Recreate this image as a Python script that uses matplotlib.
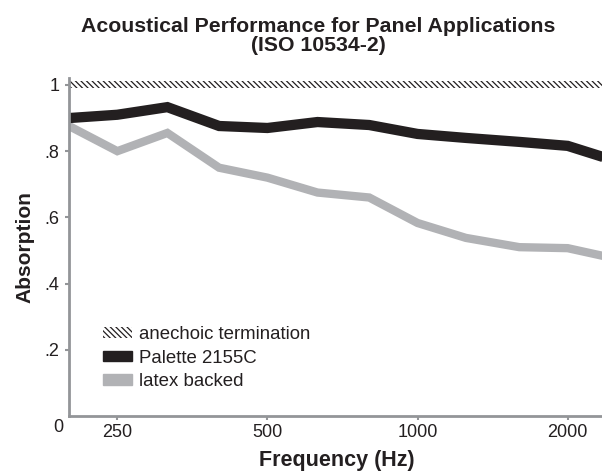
import matplotlib
matplotlib.use("Agg")
import matplotlib.pyplot as plt
from matplotlib.patches import Patch
from matplotlib.transforms import ScaledTranslation
import numpy as np

freqs = [200, 250, 315, 400, 500, 630, 800, 1000, 1250, 1600, 2000, 2500]
anechoic = [1.0] * len(freqs)
palette = [0.90, 0.91, 0.933, 0.876, 0.87, 0.888, 0.879, 0.852, 0.84, 0.828, 0.816, 0.77]
latex = [0.876, 0.80, 0.855, 0.75, 0.72, 0.675, 0.66, 0.583, 0.538, 0.51, 0.507, 0.475]
xticks = [250, 500, 1000, 2000]
yticks = [0, 0.2, 0.4, 0.6, 0.8, 1.0]
yticklabels = ["0", ".2", ".4", ".6", ".8", "1"]

plt.rcParams['font.family'] = ['Liberation Sans', 'DejaVu Sans']
plt.rcParams['hatch.linewidth'] = 0.9

fig = plt.figure(figsize=(6.02, 4.71), dpi=100)
ax = fig.add_axes([69/602, 55/471, 547/602, 338/471])

black = '#231f20'
gray = '#b1b2b5'
spine_c = '#939598'
txt_c = '#231f20'

band = 0.0105
ax.fill_between(freqs, np.array(anechoic) - band, np.array(anechoic) + band,
                facecolor='white', edgecolor=black, hatch='\\\\\\\\\\\\', linewidth=0)
ax.plot(freqs, latex, color=gray, lw=6.0, solid_joinstyle='miter', solid_capstyle='butt')
ax.plot(freqs, palette, color=black, lw=7.4, solid_joinstyle='miter', solid_capstyle='butt')

ax.set_xscale('log')
ax.set_xlim(200, 2500)
ax.set_ylim(0, 1.021)
ax.set_xticks(xticks)
ax.set_xticklabels([str(t) for t in xticks])
ax.xaxis.set_minor_locator(matplotlib.ticker.NullLocator())
ax.set_yticks(yticks)
ax.set_yticklabels(yticklabels)

for s in ['top', 'right']:
    ax.spines[s].set_visible(False)
for s in ['left', 'bottom']:
    ax.spines[s].set_color(spine_c)
    ax.spines[s].set_linewidth(2)
ax.tick_params(axis='both', colors=spine_c, length=3, width=1.5, labelsize=13,
               labelcolor=txt_c)
ax.tick_params(axis='y', pad=4)
ax.tick_params(axis='x', pad=3)
# shift the "0" label down to the corner
lab0 = ax.get_yticklabels()[0]
lab0.set_transform(lab0.get_transform() + ScaledTranslation(4/100, -9/100, fig.dpi_scale_trans))
ax.yaxis.get_major_ticks()[0].tick1line.set_visible(False)

ax.set_ylabel('Absorption', fontsize=15, fontweight='bold', color=txt_c)
ax.yaxis.set_label_coords(-(69 - 34) / 547, 0.5)
ax.set_xlabel('Frequency (Hz)', fontsize=15.5, fontweight='bold', color=txt_c)
ax.xaxis.set_label_coords((336.5 - 69) / 547, -(450 - 416) / 338)

fig.text(318.5/602, 1 - 36/471, 'Acoustical Performance for Panel Applications\n(ISO 10534-2)',
         ha='center', va='center', fontsize=15.3, fontweight='bold', color=txt_c,
         linespacing=1.05)

handles = [Patch(facecolor='white', edgecolor=black, hatch='\\\\\\\\\\\\', linewidth=0),
           Patch(facecolor=black, edgecolor=black),
           Patch(facecolor=gray, edgecolor=gray)]
labels = ['anechoic termination', 'Palette 2155C', 'latex backed']
leg = ax.legend(handles, labels, loc='upper left', bbox_to_anchor=((103 - 69)/547, (416 - 326)/338),
                frameon=False, fontsize=13.4, handlelength=1.56, handleheight=0.5,
                handletextpad=0.35, labelspacing=0.36, borderaxespad=0, borderpad=0)
for t in leg.get_texts():
    t.set_color(txt_c)

fig.savefig('out.png', dpi=100)
